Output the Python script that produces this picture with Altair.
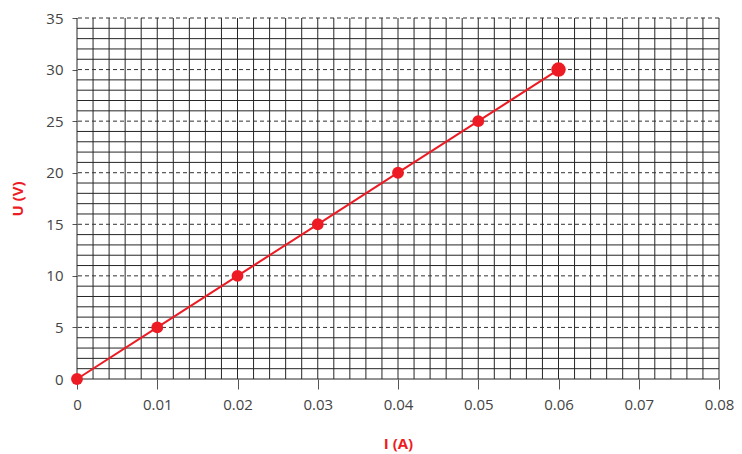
import altair as alt
import pandas as pd

# data
current_A = [0, 0.01, 0.02, 0.03, 0.04, 0.05, 0.06]
voltage_V = [0, 5, 10, 15, 20, 25, 30]

x_ticks = [0, 0.01, 0.02, 0.03, 0.04, 0.05, 0.06, 0.07, 0.08]
y_ticks = [0, 5, 10, 15, 20, 25, 30, 35]

minor_x = [round(i * 0.002, 3) for i in range(41)]
minor_y = [i for i in range(36) if i % 5 != 0 or i == 0]
major_y = [v for v in y_ticks if v != 0]

RED = "#ed1c24"
FONT = "Open Sans"

df = pd.DataFrame({"I": current_A, "U": voltage_V})
vx = pd.DataFrame({"x": minor_x})
hy = pd.DataFrame({"y": minor_y})
my = pd.DataFrame({"y": major_y})

xscale = alt.Scale(domain=[0, 0.08], nice=False, zero=False)
yscale = alt.Scale(domain=[0, 35], nice=False, zero=False)

xaxis = alt.Axis(
    values=x_ticks, format=".2~f", title="I (A)", domain=False, grid=False,
    tickSize=10, tickColor="#555", labelFontSize=15, labelColor="#444",
    labelFont=FONT, labelPadding=8, labelFlush=False, labelBound=False,
    titleFont=FONT, titleFontSize=15,
    titleFontWeight="bold", titleColor=RED, titlePadding=24,
)
yaxis = alt.Axis(
    values=y_ticks, title="U (V)", domain=False, grid=False,
    tickSize=5, tickColor="#555", labelFontSize=15, labelColor="#444",
    labelFont=FONT, labelPadding=9, labelFlush=False, labelBound=False,
    titleFont=FONT, titleFontSize=15,
    titleFontWeight="bold", titleColor=RED, titlePadding=20,
)

vrules = alt.Chart(vx).mark_rule(color="#262626", strokeWidth=1).encode(
    x=alt.X("x:Q", scale=xscale, axis=xaxis)
)
hrules = alt.Chart(hy).mark_rule(color="#262626", strokeWidth=1).encode(
    y=alt.Y("y:Q", scale=yscale, axis=yaxis)
)
drules = alt.Chart(my).mark_rule(color="#333", strokeWidth=1, strokeDash=[4, 3]).encode(
    y=alt.Y("y:Q", scale=yscale)
)

line = alt.Chart(df).mark_line(color=RED, strokeWidth=2).encode(
    x=alt.X("I:Q", scale=xscale), y=alt.Y("U:Q", scale=yscale)
)
points = alt.Chart(df).mark_circle(color=RED, opacity=1).encode(
    x=alt.X("I:Q", scale=xscale),
    y=alt.Y("U:Q", scale=yscale),
    size=alt.condition("datum.I == 0.06", alt.value(210), alt.value(140)),
)

chart = alt.layer(vrules, hrules, drules, line, points).properties(
    width=642, height=361,
    autosize=alt.AutoSizeParams(type="none"),
    padding={"left": 69, "top": 10, "right": 15, "bottom": 74},
).configure_view(stroke=None)

chart.save("out.html", embed_options={"renderer": "svg", "actions": False})
